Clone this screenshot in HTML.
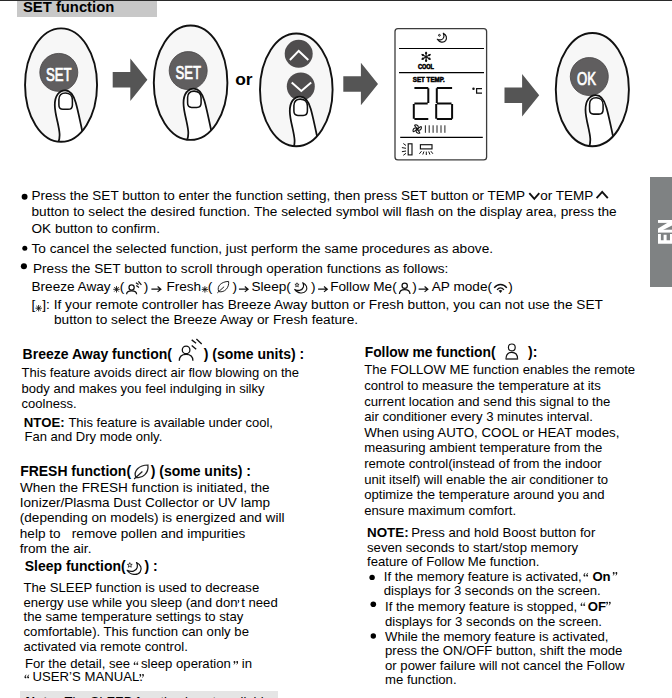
<!DOCTYPE html>
<html><head><meta charset="utf-8">
<style>
html,body{margin:0;padding:0;background:#fff;}
body{width:672px;height:698px;position:relative;overflow:hidden;font-family:"Liberation Sans",sans-serif;color:#000;}
.t{position:absolute;white-space:pre;font-size:13.6px;line-height:16px;height:16px;}
.b{font-weight:bold;}
svg{position:absolute;left:0;top:0;}
</style></head><body>
<div style="position:absolute;left:0;top:0;width:672px;height:1px;background:#2a2a2a"></div>
<div style="position:absolute;left:17px;top:1px;width:140px;height:15.5px;background:#c8c8c8"></div>
<div class="t b" style="left:23px;top:-1px;font-size:14.8px">SET function</div>
<div style="position:absolute;left:650.3px;top:177px;width:22px;height:109.5px;background:#7f8283"></div>
<div style="position:absolute;left:20px;top:691px;width:258px;height:10px;background:#e5e5e5"></div>
<svg width="672" height="698" viewBox="0 0 672 698">
<g fill="#fff">
<path d="M658 243.8H674V240.2H658Z M658 240.3V234H660.9V240.3Z M663.6 240.3V234.7H666.6V240.3Z M670 240.3V234H674V240.3Z"/>
<path d="M658 232.6H674V229.7H658Z"/><path d="M658 222.9H674V220H658Z"/><path d="M658 232.6L658 228.6L672.1 220L676 220L676 223.6Z"/>
</g>
<clipPath id="c0"><ellipse cx="61.05" cy="85.1" rx="36.0" ry="56.7"/></clipPath>
<ellipse cx="61.05" cy="85.1" rx="36.0" ry="56.7" fill="#f7f7f7"/>
<circle cx="58.8" cy="72.4" r="19.0" fill="#605e5f" stroke="#454344" stroke-width="0.8"/>
<g clip-path="url(#c0)"><g transform="translate(65.1,90.4)"><g>
<path d="M-6.9,52 C-4.4,46.5 -5.6,40.5 -7.6,31.4 C-9.2,24.5 -10.3,20 -10.3,14.5 C-10.3,5.5 -6,0 0,0 C5.2,0 8.3,4.2 10.6,12.2 C12.6,19 14.6,28.5 17.3,41.5 L17.3,60 L-6.9,60 Z" fill="#fff" stroke="none"/>
<path d="M-6.9,52 C-4.4,46.5 -5.6,40.5 -7.6,31.4 C-9.2,24.5 -10.3,20 -10.3,14.5 C-10.3,5.5 -6,0 0,0 C5.2,0 8.3,4.2 10.6,12.2 C12.6,19 14.6,28.5 17.3,41.5" fill="none" stroke="#111" stroke-width="1.75" stroke-linecap="round"/>
<path d="M-6.2,9 C-6.2,4.5 -3.5,2.6 0.3,2.6 C4.2,2.6 7.3,5 7.3,9.5 L7.3,14.5 C7.3,17.6 5.6,18.9 3,18.9 L-2.2,18.9 C-4.8,18.9 -6.2,17.4 -6.2,14.6 Z" fill="#fff" stroke="#111" stroke-width="1.55"/>
</g></g></g>
<ellipse cx="61.05" cy="85.1" rx="36.0" ry="56.7" fill="none" stroke="#111" stroke-width="1.9"/>
<clipPath id="c1"><ellipse cx="190.6" cy="82.7" rx="36.8" ry="57.2"/></clipPath>
<ellipse cx="190.6" cy="82.7" rx="36.8" ry="57.2" fill="#f7f7f7"/>
<circle cx="188.2" cy="70.6" r="19.0" fill="#605e5f" stroke="#454344" stroke-width="0.8"/>
<g clip-path="url(#c1)"><g transform="translate(193.8,88.5)"><g>
<path d="M-6.9,52 C-4.4,46.5 -5.6,40.5 -7.6,31.4 C-9.2,24.5 -10.3,20 -10.3,14.5 C-10.3,5.5 -6,0 0,0 C5.2,0 8.3,4.2 10.6,12.2 C12.6,19 14.6,28.5 17.3,41.5 L17.3,60 L-6.9,60 Z" fill="#fff" stroke="none"/>
<path d="M-6.9,52 C-4.4,46.5 -5.6,40.5 -7.6,31.4 C-9.2,24.5 -10.3,20 -10.3,14.5 C-10.3,5.5 -6,0 0,0 C5.2,0 8.3,4.2 10.6,12.2 C12.6,19 14.6,28.5 17.3,41.5" fill="none" stroke="#111" stroke-width="1.75" stroke-linecap="round"/>
<path d="M-6.2,9 C-6.2,4.5 -3.5,2.6 0.3,2.6 C4.2,2.6 7.3,5 7.3,9.5 L7.3,14.5 C7.3,17.6 5.6,18.9 3,18.9 L-2.2,18.9 C-4.8,18.9 -6.2,17.4 -6.2,14.6 Z" fill="#fff" stroke="#111" stroke-width="1.55"/>
</g></g></g>
<ellipse cx="190.6" cy="82.7" rx="36.8" ry="57.2" fill="none" stroke="#111" stroke-width="1.9"/>
<clipPath id="c2"><ellipse cx="296.3" cy="89.85" rx="36.3" ry="56.4"/></clipPath>
<ellipse cx="296.3" cy="89.85" rx="36.3" ry="56.4" fill="#f7f7f7"/>
<circle cx="298.7" cy="53.8" r="14" fill="#4f4d4e"/>
<circle cx="300.8" cy="86.5" r="14" fill="#4f4d4e"/>
<path d="M289.9,60 L298.7,50.9 L308.3,60" fill="none" stroke="#fff" stroke-width="2.0"/>
<path d="M291.7,82.5 L301.3,91 L311.2,82.5" fill="none" stroke="#fff" stroke-width="2.0"/>
<g clip-path="url(#c2)"><g transform="translate(300.1,96.5)"><g>
<path d="M-6.9,52 C-4.4,46.5 -5.6,40.5 -7.6,31.4 C-9.2,24.5 -10.3,20 -10.3,14.5 C-10.3,5.5 -6,0 0,0 C5.2,0 8.3,4.2 10.6,12.2 C12.6,19 14.6,28.5 17.3,41.5 L17.3,60 L-6.9,60 Z" fill="#fff" stroke="none"/>
<path d="M-6.9,52 C-4.4,46.5 -5.6,40.5 -7.6,31.4 C-9.2,24.5 -10.3,20 -10.3,14.5 C-10.3,5.5 -6,0 0,0 C5.2,0 8.3,4.2 10.6,12.2 C12.6,19 14.6,28.5 17.3,41.5" fill="none" stroke="#111" stroke-width="1.75" stroke-linecap="round"/>
<path d="M-6.2,9 C-6.2,4.5 -3.5,2.6 0.3,2.6 C4.2,2.6 7.3,5 7.3,9.5 L7.3,14.5 C7.3,17.6 5.6,18.9 3,18.9 L-2.2,18.9 C-4.8,18.9 -6.2,17.4 -6.2,14.6 Z" fill="#fff" stroke="#111" stroke-width="1.55"/>
</g></g></g>
<ellipse cx="296.3" cy="89.85" rx="36.3" ry="56.4" fill="none" stroke="#111" stroke-width="1.9"/>
<clipPath id="c3"><ellipse cx="592.35" cy="89.6" rx="36.55" ry="56.6"/></clipPath>
<ellipse cx="592.35" cy="89.6" rx="36.55" ry="56.6" fill="#f7f7f7"/>
<circle cx="589.3" cy="76.55" r="19.0" fill="#605e5f" stroke="#454344" stroke-width="0.8"/>
<g clip-path="url(#c3)"><g transform="translate(595.8,95.2)"><g>
<path d="M-6.9,52 C-4.4,46.5 -5.6,40.5 -7.6,31.4 C-9.2,24.5 -10.3,20 -10.3,14.5 C-10.3,5.5 -6,0 0,0 C5.2,0 8.3,4.2 10.6,12.2 C12.6,19 14.6,28.5 17.3,41.5 L17.3,60 L-6.9,60 Z" fill="#fff" stroke="none"/>
<path d="M-6.9,52 C-4.4,46.5 -5.6,40.5 -7.6,31.4 C-9.2,24.5 -10.3,20 -10.3,14.5 C-10.3,5.5 -6,0 0,0 C5.2,0 8.3,4.2 10.6,12.2 C12.6,19 14.6,28.5 17.3,41.5" fill="none" stroke="#111" stroke-width="1.75" stroke-linecap="round"/>
<path d="M-6.2,9 C-6.2,4.5 -3.5,2.6 0.3,2.6 C4.2,2.6 7.3,5 7.3,9.5 L7.3,14.5 C7.3,17.6 5.6,18.9 3,18.9 L-2.2,18.9 C-4.8,18.9 -6.2,17.4 -6.2,14.6 Z" fill="#fff" stroke="#111" stroke-width="1.55"/>
</g></g></g>
<ellipse cx="592.35" cy="89.6" rx="36.55" ry="56.6" fill="none" stroke="#111" stroke-width="1.9"/>
<g transform="translate(112.4,79.8)"><path d="M0.3,-7.7 H17.9 V-21.3 L35,0 L17.9,21.3 V7.7 H0.3 Z" fill="#555555"/></g>
<g transform="translate(343,84.0)"><path d="M0.3,-7.7 H17.9 V-21.3 L35,0 L17.9,21.3 V7.7 H0.3 Z" fill="#555555"/></g>
<g transform="translate(504.2,95.2)"><path d="M0.3,-7.7 H17.9 V-21.3 L35,0 L17.9,21.3 V7.7 H0.3 Z" fill="#555555"/></g>
<g fill="#fff" stroke="#fff" stroke-width="0.75" font-family="Liberation Sans, sans-serif" font-size="18.3">
<text transform="translate(46.0,80.8) scale(0.72,1)">SET</text>
<text transform="translate(175.4,78.6) scale(0.72,1)">SET</text>
<text transform="translate(577.0,84.8) scale(0.72,1)">OK</text>
</g>
<text x="235.2" y="85" font-family="Liberation Sans, sans-serif" font-weight="bold" font-size="17.4" fill="#000">or</text>
<g id="lcd">
<rect x="395.0" y="28.6" width="91.6" height="131.2" rx="2.9" fill="#fff" stroke="#3c3c3c" stroke-width="1.3"/>
<path d="M399.0,48.5H484" stroke="#000" stroke-width="1.1"/>
<path d="M399.0,72.6H484" stroke="#000" stroke-width="1.1"/>
<path d="M400.2,137.4H482.8" stroke="#000" stroke-width="1.1"/>
<path d="M443.3,33.2 C446.4,34.6 447.3,38.2 445.6,40.6 C443.6,43.2 439.2,42.4 437.3,39.3 C440.2,40.6 442.8,39.8 443.6,37.6 C444.1,36.2 443.9,34.6 443.3,33.2 Z" fill="#fff" stroke="#111" stroke-width="1.15" stroke-linejoin="round"/>
<circle cx="439.4" cy="35.3" r="0.9" fill="#fff" stroke="#111" stroke-width="1.0"/>
<path d="M426.10,51.70L426.10,62.10" stroke="#111" stroke-width="1.15"/>
<circle cx="426.10" cy="60.64" r="1.15" fill="#111"/>
<circle cx="426.10" cy="53.16" r="1.15" fill="#111"/>
<path d="M421.60,54.30L430.60,59.50" stroke="#111" stroke-width="1.15"/>
<circle cx="429.34" cy="58.77" r="1.15" fill="#111"/>
<circle cx="422.86" cy="55.03" r="1.15" fill="#111"/>
<path d="M430.60,54.30L421.60,59.50" stroke="#111" stroke-width="1.15"/>
<circle cx="422.86" cy="58.77" r="1.15" fill="#111"/>
<circle cx="429.34" cy="55.03" r="1.15" fill="#111"/>
<text x="418" y="68.9" font-family="Liberation Sans, sans-serif" font-weight="bold" font-size="6.3" textLength="16" lengthAdjust="spacingAndGlyphs" fill="#000" stroke="#000" stroke-width="0.55">COOL</text>
<text x="412.8" y="81.8" font-family="Liberation Sans, sans-serif" font-weight="bold" font-size="6.5" textLength="32" lengthAdjust="spacingAndGlyphs" fill="#000" stroke="#000" stroke-width="0.5">SET TEMP.</text>
<path d="M414.40000000000003,87.1H428.3V89.1H414.40000000000003Z M414.40000000000003,102.4H427.7V104.4H414.40000000000003Z M414.40000000000003,118.1H428.3V120.1H414.40000000000003Z M427.3,88.3H429.3V103.0H427.3Z M412.8,104.0H414.8V118.69999999999999H412.8Z" fill="#0a0a0a"/>
<path d="M436.8,87.1H452.1V89.1H436.8Z M436.8,102.4H451.5V104.4H436.8Z M436.8,118.1H452.1V120.1H436.8Z M451.1,104.0H453.1V118.69999999999999H451.1Z M435.8,88.3H437.8V103.0H435.8Z M435.2,104.0H437.2V118.69999999999999H435.2Z" fill="#0a0a0a"/>
<circle cx="473.5" cy="88.7" r="1.25" fill="#111"/>
<path d="M482,88.7H476.6V93.2H482" fill="none" stroke="#111" stroke-width="1.25"/>
<path transform="translate(417.2,129.1) rotate(0)" d="M0,0 C-0.3,-1.4 -2.3,-2.1 -2.6,-3.9 C-1.4,-4.6 0.8,-4.0 1.1,-2.2 C1.2,-1.2 0.5,-0.4 0,0Z" fill="none" stroke="#111" stroke-width="1.05"/>
<path transform="translate(417.2,129.1) rotate(90)" d="M0,0 C-0.3,-1.4 -2.3,-2.1 -2.6,-3.9 C-1.4,-4.6 0.8,-4.0 1.1,-2.2 C1.2,-1.2 0.5,-0.4 0,0Z" fill="none" stroke="#111" stroke-width="1.05"/>
<path transform="translate(417.2,129.1) rotate(180)" d="M0,0 C-0.3,-1.4 -2.3,-2.1 -2.6,-3.9 C-1.4,-4.6 0.8,-4.0 1.1,-2.2 C1.2,-1.2 0.5,-0.4 0,0Z" fill="none" stroke="#111" stroke-width="1.05"/>
<path transform="translate(417.2,129.1) rotate(270)" d="M0,0 C-0.3,-1.4 -2.3,-2.1 -2.6,-3.9 C-1.4,-4.6 0.8,-4.0 1.1,-2.2 C1.2,-1.2 0.5,-0.4 0,0Z" fill="none" stroke="#111" stroke-width="1.05"/>
<circle cx="417.2" cy="129.1" r="0.8" fill="#111"/>
<path d="M425.4,125.3V132.8" stroke="#222" stroke-width="1.0"/>
<path d="M429.2,125.3V132.8" stroke="#222" stroke-width="1.0"/>
<path d="M433.1,125.3V132.8" stroke="#222" stroke-width="1.0"/>
<path d="M437.0,125.3V132.8" stroke="#222" stroke-width="1.0"/>
<path d="M441.0,125.3V132.8" stroke="#222" stroke-width="1.0"/>
<path d="M444.9,125.3V132.8" stroke="#222" stroke-width="1.0"/>
<rect x="408.2" y="143.8" width="3.8" height="11.1" fill="#fff" stroke="#111" stroke-width="1.15"/>
<path d="M406,145.5L403.3,143.5 M406,148.3L401.9,147.6 M406,151.0L401.9,151.7 M406,153.3L403.3,155.3" stroke="#111" stroke-width="1.0" fill="none"/>
<rect x="420.4" y="144.7" width="11.6" height="4.2" fill="#fff" stroke="#111" stroke-width="1.15"/>
<path d="M421.5,151.2L419.4,153.8 M423.9,151.5L422.8,154.5 M426.3,151.6V155 M428.7,151.5L429.9,154.5 M430.9,151.2L432.9,153.8" stroke="#111" stroke-width="1.0" fill="none"/>
</g>
<g id="icons" fill="none" stroke="#111" stroke-linecap="butt">
<path d="M529.3,193.2L534.3,198.8L539.3,193.2" stroke-width="1.9"/>
<path d="M596.6,198.1L602.2,191.9L607.8,198.1" stroke-width="1.9"/>
<circle cx="24.6" cy="196.8" r="2.95" fill="#000" stroke="none"/>
<circle cx="24.8" cy="248.25" r="2.5" fill="#000" stroke="none"/>
<circle cx="23.9" cy="266.3" r="3.05" fill="#000" stroke="none"/>
<circle cx="372.1" cy="577.4" r="2.7" fill="#000" stroke="none"/>
<circle cx="373.3" cy="604.3" r="2.8" fill="#000" stroke="none"/>
<circle cx="373.3" cy="636.0" r="2.7" fill="#000" stroke="none"/>
<path d="M113.30,289.30L119.70,289.30 M114.24,287.04L118.76,291.56 M116.50,286.10L116.50,292.50 M118.76,287.04L114.24,291.56" stroke-width="0.9" stroke="#111"/>
<path d="M201.70,289.40L208.10,289.40 M202.64,287.14L207.16,291.66 M204.90,286.20L204.90,292.60 M207.16,287.14L202.64,291.66" stroke-width="0.9" stroke="#111"/>
<path d="M35.45,308.20L41.85,308.20 M36.39,305.94L40.91,310.46 M38.65,305.00L38.65,311.40 M40.91,305.94L36.39,310.46" stroke-width="0.9" stroke="#111"/>
<path d="M151.4,289.2H160.6 M157.6,286.5L160.9,289.2L157.6,291.9" stroke-width="1.2" stroke-linejoin="miter"/>
<path d="M238.9,289.2H247.79999999999998 M244.79999999999998,286.5L248.1,289.2L244.79999999999998,291.9" stroke-width="1.2" stroke-linejoin="miter"/>
<path d="M318.1,289.2H327.0 M324.0,286.5L327.3,289.2L324.0,291.9" stroke-width="1.2" stroke-linejoin="miter"/>
<path d="M418.6,289.2H427.59999999999997 M424.59999999999997,286.5L427.9,289.2L424.59999999999997,291.9" stroke-width="1.2" stroke-linejoin="miter"/>
<circle cx="131.6" cy="287.4" r="2.6" stroke-width="1.25"/><path d="M126.60,294.3 C126.60,291.88 128.84,290.8 131.60,290.8 C134.36,290.8 136.60,291.88 136.60,294.3" stroke-width="1.25"/>
<path d="M135.9,282.7L138.6,284.6 M138.4,281.3L141.4,284.8 M136.3,285.4L139.0,287.4" stroke-width="1.2"/>
<circle cx="404.7" cy="285.8" r="2.65" stroke-width="1.25"/><path d="M399.40,294.0 C399.40,290.89 401.77,289.5 404.70,289.5 C407.63,289.5 410.00,290.89 410.00,294.0" stroke-width="1.25"/>
<circle cx="186.1" cy="349.9" r="3.8" stroke-width="1.3"/><path d="M179.30,360.7 C179.30,356.35 182.34,354.4 186.10,354.4 C189.86,354.4 192.90,356.35 192.90,360.7" stroke-width="1.3"/>
<path d="M191.7,339.9L196.1,343.3 M196.4,339.1L201.7,343.9 M191.7,345.4L196.2,349.3" stroke-width="1.35"/>
<circle cx="511.8" cy="347.4" r="3.4" stroke-width="1.2"/><path d="M506.00,359.0 C506.00,354.44 508.60,352.4 511.80,352.4 C515.00,352.4 517.60,354.44 517.60,359.0Z" stroke-width="1.2"/>
<path d="M506,359H517.6" stroke-width="1.4" stroke="#555"/>
<g transform="translate(228.6,281.4) scale(1.0)"><path d="M-9.85,10.2 C-12.2,4.6 -7,0.2 0,0 C0.8,6.2 -4,11.6 -9.85,10.2 Z M-11.3,11.5 L-4.5,5.3" stroke-width="1.00" stroke="#222"/></g>
<g transform="translate(147.9,465.0) scale(1.22)"><path d="M-9.85,10.2 C-12.2,4.6 -7,0.2 0,0 C0.8,6.2 -4,11.6 -9.85,10.2 Z M-11.3,11.5 L-4.5,5.3" stroke-width="1.02" stroke="#222"/></g>
<g transform="translate(302.8,282.7) scale(1.0)"><path d="M0,0 C3.8,1.7 5.0,5.4 3.2,8.1 C1,11.5 -5.4,10.9 -8.1,6.7 C-4,8.6 -0.4,7.6 0.6,4.3 C1,2.8 0.8,1.4 0,0 Z" stroke-width="1.15" stroke-linejoin="round"/><path d="M-5.80,0.10 L-5.24,1.53 L-3.71,1.62 L-4.90,2.59 L-4.51,4.08 L-5.80,3.25 L-7.09,4.08 L-6.70,2.59 L-7.89,1.62 L-6.36,1.53Z" stroke-width="0.80" stroke-linejoin="miter"/></g>
<g transform="translate(136.5,562.5) scale(1.16)"><path d="M0,0 C3.8,1.7 5.0,5.4 3.2,8.1 C1,11.5 -5.4,10.9 -8.1,6.7 C-4,8.6 -0.4,7.6 0.6,4.3 C1,2.8 0.8,1.4 0,0 Z" stroke-width="1.03" stroke-linejoin="round"/><path d="M-5.80,0.10 L-5.24,1.53 L-3.71,1.62 L-4.90,2.59 L-4.51,4.08 L-5.80,3.25 L-7.09,4.08 L-6.70,2.59 L-7.89,1.62 L-6.36,1.53Z" stroke-width="0.69" stroke-linejoin="miter"/></g>
<path d="M494.2,287.9 C497.6,283.4 503.4,283.4 506.8,287.9" stroke-width="1.45"/>
<path d="M497.1,289.8 C499,287.3 502,287.3 503.9,289.8" stroke-width="1.35"/>
<path d="M500.5,293.0L498.7,290.8 C499.6,289.9 501.4,289.9 502.3,290.8Z" fill="#111" stroke="none"/>
<path transform="translate(133.70,661.2) scale(1.000)" d="M1.9,0 C0.6,0.6 0,1.6 0,2.8 C0,3.5 0.45,3.8 0.95,3.8 C1.5,3.8 1.9,3.4 1.9,2.9 C1.9,2.4 1.5,2.0 1.0,2.0 C1.0,1.3 1.3,0.8 1.9,0.4 Z" fill="#111" stroke="none"/><path transform="translate(136.40,661.2) scale(1.000)" d="M1.9,0 C0.6,0.6 0,1.6 0,2.8 C0,3.5 0.45,3.8 0.95,3.8 C1.5,3.8 1.9,3.4 1.9,2.9 C1.9,2.4 1.5,2.0 1.0,2.0 C1.0,1.3 1.3,0.8 1.9,0.4 Z" fill="#111" stroke="none"/>
<path transform="translate(235.40,664.80) scale(-1.000)" d="M1.9,0 C0.6,0.6 0,1.6 0,2.8 C0,3.5 0.45,3.8 0.95,3.8 C1.5,3.8 1.9,3.4 1.9,2.9 C1.9,2.4 1.5,2.0 1.0,2.0 C1.0,1.3 1.3,0.8 1.9,0.4 Z" fill="#111" stroke="none"/><path transform="translate(238.10,664.80) scale(-1.000)" d="M1.9,0 C0.6,0.6 0,1.6 0,2.8 C0,3.5 0.45,3.8 0.95,3.8 C1.5,3.8 1.9,3.4 1.9,2.9 C1.9,2.4 1.5,2.0 1.0,2.0 C1.0,1.3 1.3,0.8 1.9,0.4 Z" fill="#111" stroke="none"/>
<path transform="translate(24.50,674.5) scale(1.000)" d="M1.9,0 C0.6,0.6 0,1.6 0,2.8 C0,3.5 0.45,3.8 0.95,3.8 C1.5,3.8 1.9,3.4 1.9,2.9 C1.9,2.4 1.5,2.0 1.0,2.0 C1.0,1.3 1.3,0.8 1.9,0.4 Z" fill="#111" stroke="none"/><path transform="translate(27.20,674.5) scale(1.000)" d="M1.9,0 C0.6,0.6 0,1.6 0,2.8 C0,3.5 0.45,3.8 0.95,3.8 C1.5,3.8 1.9,3.4 1.9,2.9 C1.9,2.4 1.5,2.0 1.0,2.0 C1.0,1.3 1.3,0.8 1.9,0.4 Z" fill="#111" stroke="none"/>
<path transform="translate(141.20,677.70) scale(-1.000)" d="M1.9,0 C0.6,0.6 0,1.6 0,2.8 C0,3.5 0.45,3.8 0.95,3.8 C1.5,3.8 1.9,3.4 1.9,2.9 C1.9,2.4 1.5,2.0 1.0,2.0 C1.0,1.3 1.3,0.8 1.9,0.4 Z" fill="#111" stroke="none"/><path transform="translate(143.90,677.70) scale(-1.000)" d="M1.9,0 C0.6,0.6 0,1.6 0,2.8 C0,3.5 0.45,3.8 0.95,3.8 C1.5,3.8 1.9,3.4 1.9,2.9 C1.9,2.4 1.5,2.0 1.0,2.0 C1.0,1.3 1.3,0.8 1.9,0.4 Z" fill="#111" stroke="none"/>
<path transform="translate(583.50,572.8) scale(1.000)" d="M1.9,0 C0.6,0.6 0,1.6 0,2.8 C0,3.5 0.45,3.8 0.95,3.8 C1.5,3.8 1.9,3.4 1.9,2.9 C1.9,2.4 1.5,2.0 1.0,2.0 C1.0,1.3 1.3,0.8 1.9,0.4 Z" fill="#111" stroke="none"/><path transform="translate(586.20,572.8) scale(1.000)" d="M1.9,0 C0.6,0.6 0,1.6 0,2.8 C0,3.5 0.45,3.8 0.95,3.8 C1.5,3.8 1.9,3.4 1.9,2.9 C1.9,2.4 1.5,2.0 1.0,2.0 C1.0,1.3 1.3,0.8 1.9,0.4 Z" fill="#111" stroke="none"/>
<path transform="translate(614.60,575.80) scale(-1.000)" d="M1.9,0 C0.6,0.6 0,1.6 0,2.8 C0,3.5 0.45,3.8 0.95,3.8 C1.5,3.8 1.9,3.4 1.9,2.9 C1.9,2.4 1.5,2.0 1.0,2.0 C1.0,1.3 1.3,0.8 1.9,0.4 Z" fill="#111" stroke="none"/><path transform="translate(617.30,575.80) scale(-1.000)" d="M1.9,0 C0.6,0.6 0,1.6 0,2.8 C0,3.5 0.45,3.8 0.95,3.8 C1.5,3.8 1.9,3.4 1.9,2.9 C1.9,2.4 1.5,2.0 1.0,2.0 C1.0,1.3 1.3,0.8 1.9,0.4 Z" fill="#111" stroke="none"/>
<path transform="translate(580.60,602.2) scale(1.000)" d="M1.9,0 C0.6,0.6 0,1.6 0,2.8 C0,3.5 0.45,3.8 0.95,3.8 C1.5,3.8 1.9,3.4 1.9,2.9 C1.9,2.4 1.5,2.0 1.0,2.0 C1.0,1.3 1.3,0.8 1.9,0.4 Z" fill="#111" stroke="none"/><path transform="translate(583.30,602.2) scale(1.000)" d="M1.9,0 C0.6,0.6 0,1.6 0,2.8 C0,3.5 0.45,3.8 0.95,3.8 C1.5,3.8 1.9,3.4 1.9,2.9 C1.9,2.4 1.5,2.0 1.0,2.0 C1.0,1.3 1.3,0.8 1.9,0.4 Z" fill="#111" stroke="none"/>
<path transform="translate(608.00,605.50) scale(-1.000)" d="M1.9,0 C0.6,0.6 0,1.6 0,2.8 C0,3.5 0.45,3.8 0.95,3.8 C1.5,3.8 1.9,3.4 1.9,2.9 C1.9,2.4 1.5,2.0 1.0,2.0 C1.0,1.3 1.3,0.8 1.9,0.4 Z" fill="#111" stroke="none"/><path transform="translate(610.70,605.50) scale(-1.000)" d="M1.9,0 C0.6,0.6 0,1.6 0,2.8 C0,3.5 0.45,3.8 0.95,3.8 C1.5,3.8 1.9,3.4 1.9,2.9 C1.9,2.4 1.5,2.0 1.0,2.0 C1.0,1.3 1.3,0.8 1.9,0.4 Z" fill="#111" stroke="none"/>
<path transform="translate(239.3,603.4) scale(-0.9)" d="M1.9,0 C0.6,0.6 0,1.6 0,2.8 C0,3.5 0.45,3.8 0.95,3.8 C1.5,3.8 1.9,3.4 1.9,2.9 C1.9,2.4 1.5,2.0 1.0,2.0 C1.0,1.3 1.3,0.8 1.9,0.4 Z" fill="#111" stroke="none"/>
</g>
</svg>
<div class="t" style="left:31.5px;top:187.50px;font-size:13.52px;">Press the SET button to enter the function setting, then press SET button or TEMP</div>
<div class="t" style="left:540.2px;top:187.50px;font-size:13.5px;">or TEMP</div>
<div class="t" style="left:31.5px;top:203.50px;font-size:13.63px;">button to select the desired function. The selected symbol will flash on the display area, press the</div>
<div class="t" style="left:31.5px;top:220.50px;font-size:13.6px;">OK button to confirm.</div>
<div class="t" style="left:31.5px;top:240.50px;font-size:13.66px;">To cancel the selected function, just perform the same procedures as above.</div>
<div class="t" style="left:33.0px;top:260.50px;font-size:13.6px;">Press the SET button to scroll through operation functions as follows:</div>
<div class="t" style="left:31.5px;top:278.50px;font-size:13.6px;">Breeze Away</div>
<div class="t" style="left:119.7px;top:278.50px;font-size:13.6px;">(</div>
<div class="t" style="left:143.7px;top:278.50px;font-size:13.6px;">)</div>
<div class="t" style="left:166.4px;top:278.50px;font-size:13.6px;">Fresh</div>
<div class="t" style="left:207.8px;top:278.50px;font-size:13.6px;">(</div>
<div class="t" style="left:232.4px;top:278.50px;font-size:13.6px;">)</div>
<div class="t" style="left:251.5px;top:278.50px;font-size:13.6px;">Sleep(</div>
<div class="t" style="left:311.0px;top:278.50px;font-size:13.6px;">)</div>
<div class="t" style="left:330.2px;top:278.50px;font-size:13.6px;">Follow Me(</div>
<div class="t" style="left:412.3px;top:278.50px;font-size:13.6px;">)</div>
<div class="t" style="left:431.8px;top:278.50px;font-size:13.6px;">AP mode(</div>
<div class="t" style="left:508.3px;top:278.50px;font-size:13.6px;">)</div>
<div class="t" style="left:31.5px;top:296.50px;font-size:13.6px;">[</div>
<div class="t" style="left:42.3px;top:296.50px;font-size:13.68px;">]: If your remote controller has Breeze Away button or Fresh button, you can not use the SET</div>
<div class="t" style="left:54.0px;top:311.50px;font-size:13.69px;">button to select the Breeze Away or Fresh feature.</div>
<div class="t b" style="left:22.6px;top:346.00px;font-size:14.0px;">Breeze Away function(</div>
<div class="t b" style="left:203.8px;top:346.00px;font-size:14.0px;">) (some units) :</div>
<div class="t" style="left:21.6px;top:364.50px;font-size:13.0px;">This feature avoids direct air flow blowing on the</div>
<div class="t" style="left:21.6px;top:380.50px;font-size:13.0px;">body and makes you feel indulging in silky</div>
<div class="t" style="left:21.6px;top:395.50px;font-size:13.0px;">coolness.</div>
<div class="t b" style="left:23.8px;top:414.50px;font-size:13.2px;">NTOE:</div>
<div class="t" style="left:68.4px;top:414.50px;font-size:13.0px;">This feature is available under cool,</div>
<div class="t" style="left:24.5px;top:428.50px;font-size:13.0px;">Fan and Dry mode only.</div>
<div class="t b" style="left:20.2px;top:463.00px;font-size:13.96px;">FRESH function(</div>
<div class="t b" style="left:150.7px;top:463.00px;font-size:14.0px;">) (some units) :</div>
<div class="t" style="left:20.0px;top:479.50px;font-size:13.57px;">When the FRESH function is initiated, the</div>
<div class="t" style="left:19.8px;top:494.50px;font-size:13.57px;">Ionizer/Plasma Dust Collector or UV lamp</div>
<div class="t" style="left:19.8px;top:509.50px;font-size:13.57px;">(depending on models) is energized and will</div>
<div class="t" style="left:19.8px;top:525.50px;font-size:13.57px;">help to   remove pollen and impurities</div>
<div class="t" style="left:19.8px;top:540.50px;font-size:13.57px;">from the air.</div>
<div class="t b" style="left:24.8px;top:558.00px;font-size:13.96px;">Sleep function(</div>
<div class="t b" style="left:144.5px;top:558.00px;font-size:14.0px;">) :</div>
<div class="t" style="left:23.5px;top:579.50px;font-size:13.15px;">The SLEEP function is used to decrease</div>
<div class="t" style="left:23.5px;top:594.50px;font-size:13.15px;">energy use while you sleep (and don</div>
<div class="t" style="left:241.2px;top:594.50px;font-size:13.15px;">t need</div>
<div class="t" style="left:23.5px;top:608.50px;font-size:13.15px;">the same temperature settings to stay</div>
<div class="t" style="left:23.5px;top:623.50px;font-size:13.15px;">comfortable). This function can only be</div>
<div class="t" style="left:23.5px;top:638.50px;font-size:13.15px;">activated via remote control.</div>
<div class="t" style="left:25.0px;top:655.50px;font-size:13.15px;">For the detail, see</div>
<div class="t" style="left:32.6px;top:668.50px;font-size:13.15px;">USER’S MANUAL</div>
<div class="t" style="left:139.3px;top:668.50px;font-size:13.15px;">.</div>
<div class="t" style="left:141.0px;top:655.50px;font-size:13.15px;">sleep operation</div>
<div class="t" style="left:241.8px;top:655.50px;font-size:13.15px;">in</div>
<div class="t b" style="left:25.5px;top:693.50px;font-size:13.2px;">Note:</div>
<div class="t" style="left:64.5px;top:693.50px;font-size:13.0px;">The SLEEP function is not available</div>
<div class="t b" style="left:364.7px;top:344.00px;font-size:13.86px;">Follow me function(</div>
<div class="t b" style="left:528.0px;top:344.00px;font-size:14.0px;">):</div>
<div class="t" style="left:364.2px;top:361.50px;font-size:13.15px;">The FOLLOW ME function enables the remote</div>
<div class="t" style="left:364.2px;top:377.50px;font-size:13.15px;">control to measure the temperature at its</div>
<div class="t" style="left:364.2px;top:393.50px;font-size:13.15px;">current location and send this signal to the</div>
<div class="t" style="left:364.2px;top:408.50px;font-size:13.15px;">air conditioner every 3 minutes interval.</div>
<div class="t" style="left:364.2px;top:424.50px;font-size:13.3px;">When using AUTO, COOL or HEAT modes,</div>
<div class="t" style="left:364.2px;top:439.50px;font-size:13.15px;">measuring ambient temperature from the</div>
<div class="t" style="left:364.2px;top:455.50px;font-size:13.15px;">remote control(instead of from the indoor</div>
<div class="t" style="left:364.2px;top:471.50px;font-size:13.15px;">unit itself) will enable the air conditioner to</div>
<div class="t" style="left:364.2px;top:486.50px;font-size:13.15px;">optimize the temperature around you and</div>
<div class="t" style="left:364.2px;top:502.50px;font-size:13.15px;">ensure maximum comfort.</div>
<div class="t b" style="left:367.0px;top:524.50px;font-size:13.4px;">NOTE:</div>
<div class="t" style="left:411.2px;top:524.50px;font-size:13.15px;">Press and hold Boost button for</div>
<div class="t" style="left:367.0px;top:539.50px;font-size:13.15px;">seven seconds to start/stop memory</div>
<div class="t" style="left:367.0px;top:553.50px;font-size:13.15px;">feature of Follow Me function.</div>
<div class="t" style="left:383.8px;top:568.50px;font-size:13.15px;">If the memory feature is activated,</div>
<div class="t b" style="left:592.4px;top:568.50px;font-size:13.15px;">On</div>
<div class="t" style="left:383.8px;top:582.50px;font-size:13.15px;">displays for 3 seconds on the screen.</div>
<div class="t" style="left:385.0px;top:598.50px;font-size:13.15px;">If the memory feature is stopped,</div>
<div class="t b" style="left:587.7px;top:598.50px;font-size:13.15px;">OF</div>
<div class="t" style="left:385.0px;top:613.50px;font-size:13.15px;">displays for 3 seconds on the screen.</div>
<div class="t" style="left:385.0px;top:628.50px;font-size:13.15px;">While the memory feature is activated,</div>
<div class="t" style="left:385.0px;top:642.50px;font-size:13.15px;">press the ON/OFF button, shift the mode</div>
<div class="t" style="left:385.0px;top:657.50px;font-size:13.15px;">or power failure will not cancel the Follow</div>
<div class="t" style="left:385.0px;top:671.50px;font-size:13.15px;">me function.</div>
</body></html>
